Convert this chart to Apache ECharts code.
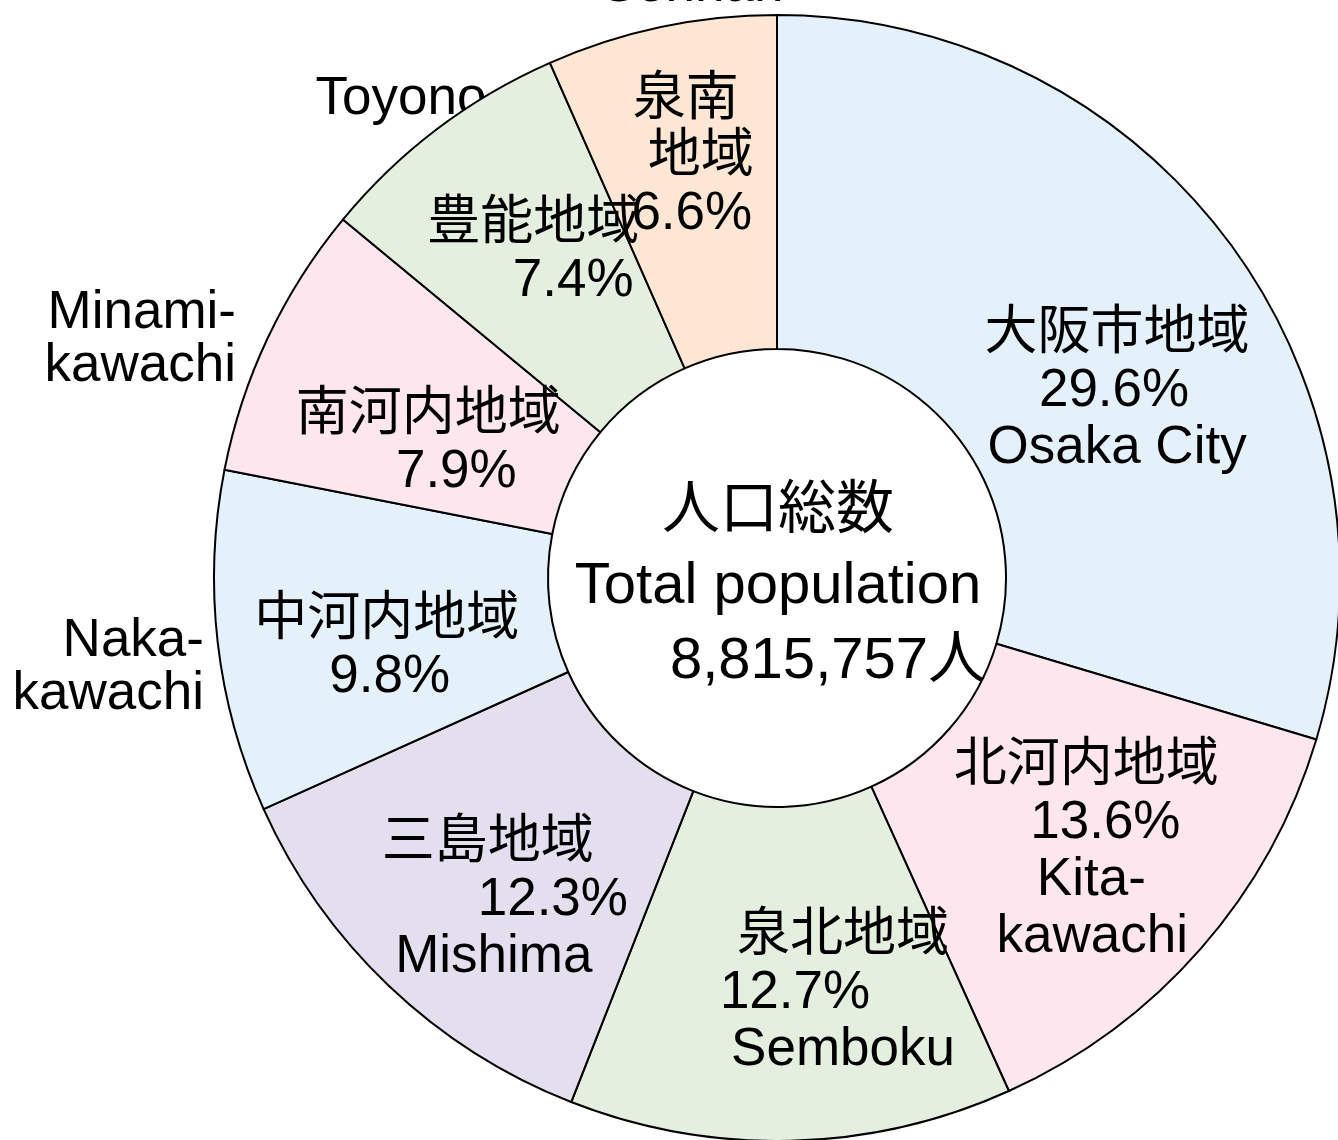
<!DOCTYPE html>
<html>
<head>
<meta charset="utf-8">
<title>大阪府 地域別人口</title>
<script src="https://cdn.jsdelivr.net/npm/echarts@6/dist/echarts.min.js"></script>
<style>
	html, body { margin: 0; padding: 0; background: #fff; }
	#chart { width: 1338px; height: 1140px; }
</style>
</head>
<body>
<div id="chart"></div>
<script>
	'use strict'
	/*----data----*/
	var regionsJa = ['大阪市地域', '北河内地域', '泉北地域', '三島地域', '中河内地域', '南河内地域', '豊能地域', '泉南地域'];
	var regionsEn = ['Osaka City', 'Kita-\nkawachi', 'Semboku', 'Mishima', 'Naka-\nkawachi', 'Minami-\nkawachi', 'Toyono', 'Sennan'];
	var shares = [29.6, 13.6, 12.7, 12.3, 9.8, 7.9, 7.4, 6.6];
	var totalPopulation = 8815757;

	/*----style----*/
	var colors = ['#e4f1fb', '#fde6ee', '#e4efdf', '#e3dfee', '#e4f1fb', '#fde6ee', '#e4efdf', '#fde6d4'];
	var FONT = "'Liberation Sans', 'Noto Sans CJK JP', sans-serif";
	var LABEL_SIZE = 53;

	// label block offset from the default inside anchor, and per-line horizontal shifts
	var labelLayoutCfg = [
		{ dx: 20, dy: 52, shifts: [0, -3, 0], enInside: true },
		{ dx: 9, dy: 11, shifts: [0, 19, 5, 6], enInside: true },
		{ dx: 56, dy: 17, shifts: [0, -48, 0], enInside: true },
		{ dx: -12, dy: 33, shifts: [-2, 63, 4], enInside: true },
		{ dx: 6, dy: 25, shifts: [0, 3] },
		{ dx: 12, dy: 37, shifts: [0, 28] },
		{ dx: -3, dy: -7, shifts: [0, 40] },
		{ dx: -2, dy: -30, shifts: [-7, 8, -1], splitJa: true }
	];
	// english names placed outside the ring
	var outsideNames = [
		{ idx: 7, x: 692, y: -14, align: 'center' },
		{ idx: 6, x: 401, y: 99, align: 'center' },
		{ idx: 5, x: 236, y: 340, align: 'right' },
		{ idx: 4, x: 204, y: 668, align: 'right' }
	];

	function lineStyle(shift) {
		var pad = shift > 0 ? [0, 0, 0, 2 * shift] : [0, -2 * shift, 0, 0];
		return {
			fontSize: LABEL_SIZE,
			fontFamily: FONT,
			lineHeight: 57,
			color: '#000',
			padding: pad
		};
	}

	var pieData = shares.map(function(v, i) {
		var cfg = labelLayoutCfg[i];
		var lines = [];
		if (cfg.splitJa) {
			lines.push(regionsJa[i].slice(0, 2), regionsJa[i].slice(2));
		} else {
			lines.push(regionsJa[i]);
		}
		lines.push(v.toFixed(1) + '%');
		if (cfg.enInside) {
			regionsEn[i].split('\n').forEach(function(s) { lines.push(s); });
		}
		var rich = {};
		var text = lines.map(function(s, k) {
			rich['l' + k] = lineStyle(cfg.shifts[k] || 0);
			return '{l' + k + '|' + s + '}';
		}).join('\n');
		return {
			name: regionsJa[i],
			value: v,
			itemStyle: { color: colors[i] },
			label: { formatter: text, rich: rich }
		};
	});

	var graphics = outsideNames.map(function(o) {
		return {
			type: 'text',
			x: o.x,
			y: o.y,
			silent: true,
			style: {
				text: regionsEn[o.idx],
				fontSize: LABEL_SIZE,
				fontFamily: FONT,
				lineHeight: 53,
				fill: '#000',
				align: o.align,
				verticalAlign: 'middle'
			}
		};
	});
	graphics.push({
		type: 'text',
		x: 778,
		y: 587,
		silent: true,
		z: 100,
		style: {
			text: '{ja|人口総数}\n{en|Total population}\n{num|' + totalPopulation.toLocaleString('en-US') + '人}',
			align: 'center',
			verticalAlign: 'middle',
			rich: {
				ja: { fontSize: 58, fontFamily: FONT, lineHeight: 75, fill: '#000' },
				en: { fontSize: 58, fontFamily: FONT, lineHeight: 75, fill: '#000' },
				num: { fontSize: 58, fontFamily: FONT, lineHeight: 75, fill: '#000', padding: [0, 0, 0, 100] }
			}
		}
	});

	var chart = echarts.init(document.getElementById('chart'));
	chart.setOption({
		animation: false,
		backgroundColor: '#fff',
		series: [{
			name: 'population',
			type: 'pie',
			center: [777, 578],
			radius: [229, 563],
			startAngle: 90,
			clockwise: true,
			avoidLabelOverlap: false,
			itemStyle: {
				borderColor: '#000',
				borderWidth: 2
			},
			label: {
				show: true,
				position: 'inside',
				color: '#000',
				fontSize: LABEL_SIZE,
				fontFamily: FONT
			},
			labelLine: { show: false },
			labelLayout: function(params) {
				var cfg = labelLayoutCfg[params.dataIndex];
				return { dx: cfg.dx, dy: cfg.dy };
			},
			emphasis: { disabled: true },
			data: pieData
		}],
		graphic: graphics
	});
</script>
</body>
</html>
